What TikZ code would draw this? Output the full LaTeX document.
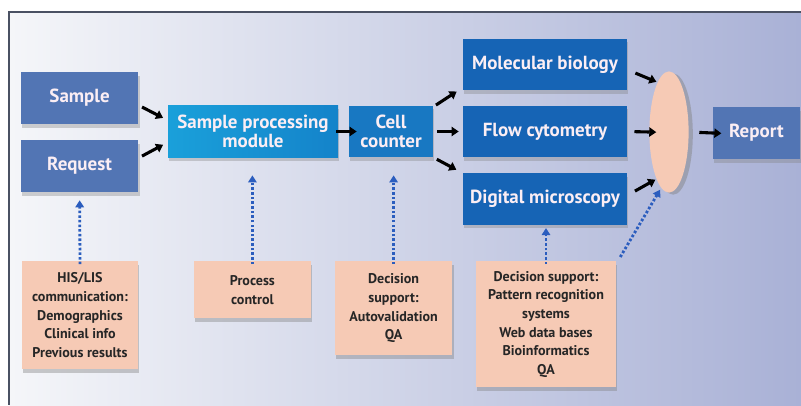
\documentclass[tikz,border=0pt]{standalone}
\usepackage{fontspec}
\setmainfont{PT Sans}
\usetikzlibrary{arrows.meta,positioning,shapes.geometric,calc,shadows}
\definecolor{inblue}{HTML}{5275B4}
\definecolor{procblue}{HTML}{1AA0DA}
\definecolor{procdeep}{HTML}{1483CA}
\definecolor{cellblue}{HTML}{1878C2}
\definecolor{labblue}{HTML}{1664B5}
\definecolor{salmon}{HTML}{F6CAB5}
\definecolor{boxtext}{HTML}{FBEEF4}
\definecolor{dotblue}{HTML}{2B5DBE}
\definecolor{bgleft}{HTML}{F5F6F9}
\definecolor{bgright}{HTML}{A9B1D6}
\definecolor{framecol}{HTML}{4A5163}
\tikzset{
  bluebox/.style={rectangle,align=center,text=boxtext,font=\fontsize{13.5}{13.8}\selectfont\bfseries,
    drop shadow={opacity=0.35,shadow xshift=1pt,shadow yshift=-2.5pt}},
  inbox/.style={bluebox,fill=inblue,minimum width=2.93cm,minimum height=1.3cm},
  procbox/.style={bluebox,fill=procblue,minimum height=1.28cm},
  labbox/.style={bluebox,fill=labblue,minimum width=4.1cm,minimum height=1.28cm},
  notebox/.style={rectangle,fill=salmon,anchor=north,align=center,text=black!85,
    font=\fontsize{10}{13.3}\selectfont\bfseries,
    drop shadow={opacity=0.4,shadow xshift=1pt,shadow yshift=-2.5pt}},
  flowarrow/.style={-{Triangle[length=5pt,width=6.5pt]},line width=2.2pt,black},
  infoarrow/.style={-{Triangle[length=5pt,width=6pt]},line width=2pt,dotblue,
    dash pattern=on 1.8pt off 1.5pt}
}

\begin{document}
\begin{tikzpicture}
  \useasboundingbox (0,0) rectangle (20.025,10.125);
  % background and frame
  \fill[left color=bgleft,right color=bgright] (0.225,0) rectangle (20.025,9.825);
  \draw[framecol,line width=0.9pt] (0.225,0) -- (0.225,9.825) -- (20.025,9.825);

  % main chain
  \node[inbox] (sample) at (1.99,7.675) {Sample};
  \node[inbox] (request) at (1.99,5.975) {Request};
  \node[procbox,left color=procblue,right color=procdeep,minimum width=4.25cm] (module) at (6.325,6.8375) {Sample processing\\module};
  \node[procbox,fill=cellblue,minimum width=2.1cm] (cell) at (9.775,6.8375) {Cell\\counter};
  \node[labbox] (molbio) at (13.625,8.5125) {Molecular biology};
  \node[labbox] (flow) at (13.625,6.8375) {Flow cytometry};
  \node[labbox] (digital) at (13.625,5.15) {Digital microscopy};
  \node[ellipse,fill=salmon,minimum width=0.98cm,minimum height=3.03cm,inner sep=0pt,
    drop shadow={opacity=0.45,shadow xshift=3pt,shadow yshift=-1.5pt}] (merge) at (16.725,6.825) {};
  \node[inbox,minimum width=2.175cm] (report) at (18.91,6.8) {Report};

  % support boxes
  \node[notebox,minimum width=2.9cm,minimum height=2.7cm] (hislis) at (2.0,3.6)
    {HIS/LIS\\communication:\\Demographics\\Clinical info\\Previous results};
  \node[notebox,minimum width=2.93cm,minimum height=1.43cm] (process) at (6.31,3.6)
    {Process\\control};
  \node[notebox,minimum width=2.93cm,minimum height=2.35cm] (autoval) at (9.84,3.6)
    {Decision\\support:\\Autovalidation\\QA};
  \node[notebox,minimum width=3.5cm,minimum height=3.15cm] (pattern) at (13.65,3.6)
    {Decision support:\\Pattern recognition\\systems\\Web data bases\\Bioinformatics\\QA};

  % sample flow
  \draw[flowarrow,shorten <=0.1cm,shorten >=0.13cm] ([yshift=-0.18cm]sample.east) -- ([yshift=0.28cm]module.west);
  \draw[flowarrow,shorten <=0.1cm,shorten >=0.13cm] ([yshift=0.2cm]request.east) -- ([yshift=-0.27cm]module.west);
  \draw[flowarrow,shorten <=-0.05cm,shorten >=-0.2cm] (module.east) -- (cell.west);
  \draw[flowarrow,shorten <=0.08cm,shorten >=0.18cm] ([yshift=-0.03cm]cell.north east) -- ([yshift=0.07cm]molbio.south west);
  \draw[flowarrow,shorten <=0.1cm,shorten >=0.1cm] (cell.east) -- (flow.west);
  \draw[flowarrow,shorten <=0.1cm,shorten >=0.18cm] (cell.south east) -- (digital.north west);
  \draw[flowarrow,shorten <=0.22cm,shorten >=0.03cm] ([yshift=-0.13cm]molbio.east) -- (merge.103);
  \draw[flowarrow,shorten <=0.18cm,shorten >=-0.18cm] (flow.east) -- (merge.west);
  \draw[flowarrow,shorten <=0.22cm,shorten >=0.03cm] ([yshift=0.09cm]digital.east) -- (merge.255);
  \draw[flowarrow,shorten <=0.26cm,shorten >=-0.22cm] (merge.east) -- (report.west);

  % information flow
  \draw[infoarrow,shorten <=-0.08cm,shorten >=0.2cm] (hislis.north) -- (request.south);
  \draw[infoarrow,shorten <=-0.08cm,shorten >=0.45cm] (process.north) -- (process.north |- module.south);
  \draw[infoarrow,shorten <=-0.08cm,shorten >=0.45cm] (autoval.north) -- (autoval.north |- cell.south);
  \draw[infoarrow,shorten <=-0.08cm,shorten >=0.08cm] (pattern.north) -- (pattern.north |- digital.south);
  \draw[infoarrow,shorten >=0.05cm] ([xshift=0.1cm,yshift=0.1cm]pattern.north east) -- (merge.262);
\end{tikzpicture}
\end{document}
